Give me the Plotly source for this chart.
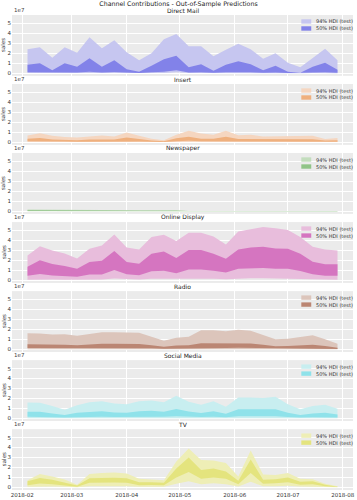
import plotly.graph_objects as go
from plotly.subplots import make_subplots
import pandas as pd
import numpy as np

SCALE = 1e7
dates = pd.date_range("2018-02-04", periods=26, freq="7D")

channels = ["Direct Mail", "Insert", "Newspaper", "Online Display", "Radio", "Social Media", "TV"]
light_colors = ["#c6c6f0", "#f5d6c0", "#c3ddbd", "#e8bddc", "#dcc5bb", "#c8eef0", "#eeeeb6"]
dark_colors = ["#8282e9", "#efb07e", "#90c487", "#d575c0", "#bb8673", "#8fe2ea", "#e4e47e"]
legend_labels = ["94% HDI (test)", "50% HDI (test)"]
ytick_vals = [0, 1, 2, 3, 4, 5]
ytick_text = ["0", "1", "2", "3", "4", "5"]

# values in units of 1e7
dm_lo94 = [0.01, 0.01, 0.0, 0.01, 0.01, 0.02, 0.01, 0.01, 0.0, 0.0, 0.01, 0.02, 0.1, 0.01, 0.01, 0.0, 0.01, 0.01, 0.01, 0.0, 0.01, 0.0, 0.0, 0.01, 0.01, 0.0]
dm_lo50 = [0.1, 0.1, 0.03, 0.1, 0.07, 0.15, 0.07, 0.12, 0.04, 0.02, 0.08, 0.14, 0.3, 0.06, 0.09, 0.03, 0.08, 0.11, 0.09, 0.03, 0.07, 0.02, 0.01, 0.06, 0.1, 0.04]
dm_hi50 = [0.85, 1.0, 0.3, 1.0, 0.65, 1.5, 0.65, 1.3, 0.4, 0.15, 0.75, 1.4, 1.75, 0.6, 0.9, 0.25, 0.85, 1.2, 0.9, 0.3, 0.75, 0.15, 0.05, 0.65, 1.05, 0.35]
dm_hi94 = [2.4, 2.6, 1.55, 2.6, 2.05, 3.6, 2.5, 3.3, 2.1, 1.3, 2.0, 3.4, 3.95, 2.7, 2.7, 1.7, 2.35, 2.95, 2.4, 1.45, 2.0, 1.05, 0.6, 1.55, 2.45, 1.3]

ins_lo94 = [0.01] * 26
ins_lo50 = [0.09, 0.1, 0.06, 0.06, 0.05, 0.06, 0.07, 0.06, 0.12, 0.07, 0.04, 0.02, 0.1, 0.14, 0.09, 0.09, 0.14, 0.08, 0.08, 0.06, 0.06, 0.07, 0.06, 0.07, 0.04, 0.05]
ins_hi50 = [0.35, 0.42, 0.26, 0.23, 0.2, 0.26, 0.29, 0.26, 0.48, 0.29, 0.16, 0.1, 0.39, 0.55, 0.35, 0.35, 0.55, 0.32, 0.32, 0.26, 0.26, 0.29, 0.26, 0.29, 0.16, 0.2]
ins_hi94 = [0.68, 0.9, 0.65, 0.52, 0.48, 0.58, 0.68, 0.58, 0.97, 0.65, 0.35, 0.2, 0.75, 1.15, 0.87, 0.75, 1.15, 0.7, 0.75, 0.58, 0.58, 0.65, 0.58, 0.65, 0.32, 0.42]

np_lo94 = [0.0] * 26
np_lo50 = [0.03, 0.03, 0.02, 0.01, 0.01, 0.02, 0.02, 0.02, 0.02, 0.01, 0.02, 0.02, 0.02, 0.0, 0.0, 0.0, 0.0, 0.0, 0.0, 0.0, 0.0, 0.0, 0.0, 0.0, 0.0, 0.0]
np_hi50 = [0.1, 0.09, 0.05, 0.04, 0.04, 0.05, 0.06, 0.05, 0.06, 0.04, 0.05, 0.06, 0.06, 0.01, 0.01, 0.01, 0.01, 0.01, 0.01, 0.01, 0.01, 0.01, 0.01, 0.01, 0.01, 0.01]
np_hi94 = [0.16, 0.15, 0.11, 0.09, 0.09, 0.1, 0.11, 0.1, 0.11, 0.09, 0.1, 0.11, 0.11, 0.03, 0.02, 0.02, 0.02, 0.02, 0.02, 0.02, 0.02, 0.02, 0.02, 0.02, 0.02, 0.01]

od_lo94 = [0.06, 0.09, 0.07, 0.06, 0.05, 0.08, 0.08, 0.18, 0.09, 0.07, 0.14, 0.15, 0.1, 0.17, 0.17, 0.14, 0.11, 0.18, 0.2, 0.2, 0.18, 0.18, 0.14, 0.09, 0.06, 0.06]
od_lo50 = [0.45, 0.64, 0.48, 0.45, 0.35, 0.58, 0.58, 1.03, 0.61, 0.51, 0.9, 0.96, 0.7, 1.09, 1.09, 0.96, 0.77, 1.15, 1.22, 1.22, 1.15, 1.15, 0.93, 0.61, 0.45, 0.45]
od_hi50 = [1.35, 2.0, 1.63, 1.44, 1.15, 1.83, 1.95, 2.95, 1.83, 1.67, 2.66, 2.88, 2.24, 3.04, 3.04, 2.66, 2.15, 3.1, 3.3, 3.36, 3.2, 3.17, 2.66, 1.86, 1.6, 1.6]
od_hi94 = [2.5, 3.43, 3.0, 2.7, 2.18, 3.17, 3.5, 4.6, 3.3, 3.08, 4.36, 4.58, 3.94, 4.78, 4.78, 4.4, 3.6, 4.9, 5.13, 5.35, 5.22, 5.06, 4.36, 3.37, 3.1, 2.98]

rad_lo94 = [0.01] * 26
rad_lo50 = [0.12, 0.12, 0.1, 0.1, 0.09, 0.11, 0.13, 0.13, 0.12, 0.12, 0.09, 0.05, 0.08, 0.09, 0.14, 0.14, 0.13, 0.14, 0.13, 0.1, 0.07, 0.07, 0.09, 0.1, 0.07, 0.03]
rad_hi50 = [0.5, 0.5, 0.45, 0.45, 0.4, 0.48, 0.55, 0.55, 0.52, 0.52, 0.4, 0.25, 0.38, 0.4, 0.6, 0.6, 0.57, 0.62, 0.58, 0.45, 0.3, 0.33, 0.38, 0.45, 0.32, 0.15]
rad_hi94 = [1.6, 1.58, 1.48, 1.5, 1.35, 1.5, 1.72, 1.72, 1.65, 1.65, 1.25, 0.85, 1.15, 1.25, 1.9, 1.9, 1.8, 1.95, 1.85, 1.4, 1.0, 1.05, 1.2, 1.4, 1.0, 0.55]

sm_lo94 = [0.01] * 26
sm_lo50 = [0.15, 0.15, 0.11, 0.07, 0.12, 0.15, 0.16, 0.13, 0.12, 0.16, 0.17, 0.15, 0.21, 0.15, 0.12, 0.16, 0.1, 0.2, 0.2, 0.2, 0.2, 0.12, 0.07, 0.11, 0.12, 0.09]
sm_hi50 = [0.65, 0.65, 0.49, 0.32, 0.55, 0.65, 0.71, 0.58, 0.55, 0.71, 0.75, 0.65, 0.94, 0.68, 0.52, 0.71, 0.45, 0.91, 0.91, 0.91, 0.91, 0.55, 0.32, 0.49, 0.55, 0.39]
sm_hi94 = [1.6, 1.56, 1.23, 0.85, 1.3, 1.62, 1.72, 1.5, 1.4, 1.72, 1.79, 1.62, 2.27, 1.66, 1.36, 1.72, 1.17, 2.1, 2.1, 2.05, 2.17, 1.4, 0.9, 1.23, 1.36, 0.97]

tv_lo94 = [0.05, 0.1, 0.08, 0.05, 0.01, 0.12, 0.14, 0.14, 0.12, 0.06, 0.06, 0.06, 0.35, 0.6, 0.3, 0.4, 0.3, 0.08, 0.55, 0.1, 0.12, 0.15, 0.07, 0.08, 0.02, 0.0]
tv_lo50 = [0.22, 0.38, 0.3, 0.2, 0.05, 0.45, 0.48, 0.48, 0.45, 0.22, 0.23, 0.22, 1.0, 1.55, 0.85, 1.0, 0.85, 0.3, 1.45, 0.35, 0.4, 0.5, 0.25, 0.3, 0.1, 0.02]
tv_hi50 = [0.6, 0.93, 0.75, 0.5, 0.18, 0.9, 0.93, 0.95, 0.9, 0.5, 0.5, 0.45, 1.9, 3.0, 1.75, 1.9, 1.6, 0.65, 2.8, 0.75, 0.8, 1.0, 0.55, 0.6, 0.25, 0.05]
tv_hi94 = [0.7, 1.33, 1.08, 0.78, 0.25, 1.33, 1.43, 1.5, 1.4, 0.85, 0.78, 0.7, 2.6, 3.9, 2.75, 2.7, 2.45, 1.1, 3.7, 1.3, 1.25, 1.45, 0.85, 0.8, 0.35, 0.1]

bands = [
    (dm_lo94, dm_lo50, dm_hi50, dm_hi94),
    (ins_lo94, ins_lo50, ins_hi50, ins_hi94),
    (np_lo94, np_lo50, np_hi50, np_hi94),
    (od_lo94, od_lo50, od_hi50, od_hi94),
    (rad_lo94, rad_lo50, rad_hi50, rad_hi94),
    (sm_lo94, sm_lo50, sm_hi50, sm_hi94),
    (tv_lo94, tv_lo50, tv_hi50, tv_hi94),
]

W, H = 357, 500
ML, MR, MT, MB = 12, 2, 15, 9
PW = W - ML - MR
PH = H - MT - MB
GAP = 8.2
FONT = "DejaVu Sans"

fig = make_subplots(rows=7, cols=1, shared_xaxes=True,
                    vertical_spacing=GAP / PH, subplot_titles=channels)
panel_h = (PH - 6 * GAP) / 7

for i, (lo94, lo50, hi50, hi94) in enumerate(bands):
    r = i + 1
    for lo, hi, col, lab in [(lo94, hi94, light_colors[i], legend_labels[0]),
                             (lo50, hi50, dark_colors[i], legend_labels[1])]:
        fig.add_trace(go.Scatter(x=dates, y=np.array(lo) * SCALE, mode="lines",
                                 line=dict(width=0), showlegend=False, hoverinfo="skip"),
                      row=r, col=1)
        fig.add_trace(go.Scatter(x=dates, y=np.array(hi) * SCALE, mode="lines",
                                 line=dict(width=0), fill="tonexty", fillcolor=col,
                                 name=lab, showlegend=False),
                      row=r, col=1)
    ydom = "y domain" if r == 1 else f"y{r} domain"
    # 1e7 offset label
    fig.add_annotation(text="1e7", xref="paper", yref=ydom, x=0, y=1.0,
                       xanchor="left", yanchor="bottom", showarrow=False,
                       font=dict(size=5.5, color="#444", family=FONT))
    # y label
    fig.add_annotation(text="sales", xref="paper", yref=ydom, x=(3.5 - ML) / PW, y=0.5,
                       textangle=-90, xanchor="center", yanchor="middle", showarrow=False,
                       font=dict(size=5.5, color="#333", family=FONT))
    # legend
    for k, (lab, col) in enumerate([(legend_labels[0], light_colors[i]),
                                    (legend_labels[1], dark_colors[i])]):
        cy = 6.5 + 7 * k
        fig.add_shape(type="rect", xref="paper", yref=ydom,
                      x0=(303 - ML) / PW, x1=(313 - ML) / PW,
                      y0=1 - (cy + 2.2) / panel_h, y1=1 - (cy - 2.2) / panel_h,
                      line=dict(width=0), fillcolor=col)
        fig.add_annotation(text=lab, xref="paper", yref=ydom, x=(316 - ML) / PW,
                           y=1 - cy / panel_h, xanchor="left", yanchor="middle",
                           showarrow=False, font=dict(size=5, color="#333", family=FONT))

for a in fig.layout.annotations:
    if a.text in channels:
        a.font = dict(size=6, color="#222", family=FONT)
        a.yshift = -1

fig.update_xaxes(range=["2018-01-26 06:00", "2018-08-06 18:00"], dtick="M1",
                 tick0="2018-02-01", tickformat="%Y-%m", gridcolor="white", gridwidth=0.8,
                 showline=False, zeroline=False, ticks="",
                 tickfont=dict(size=5.5, color="#333", family=FONT))
fig.update_yaxes(range=[-0.27 * SCALE, 5.85 * SCALE],
                 tickvals=[v * SCALE for v in ytick_vals], ticktext=ytick_text,
                 gridcolor="white", gridwidth=0.8, zeroline=False, showline=False,
                 ticks="", automargin=False,
                 tickfont=dict(size=5.5, color="#333", family=FONT))

fig.update_layout(
    width=W, height=H,
    margin=dict(l=ML, r=MR, t=MT, b=MB),
    paper_bgcolor="white", plot_bgcolor="#ebebeb",
    showlegend=False,
    title=dict(text="Channel Contributions - Out-of-Sample Predictions",
               x=0.5, xanchor="center", y=1 - 3.8 / H, yanchor="middle",
               font=dict(size=6.3, color="#222", family=FONT)),
    font=dict(family=FONT),
)

fig.write_html("out.html", config={"displayModeBar": False},
               post_script="document.body.style.margin='0';document.body.style.overflow='hidden';")
